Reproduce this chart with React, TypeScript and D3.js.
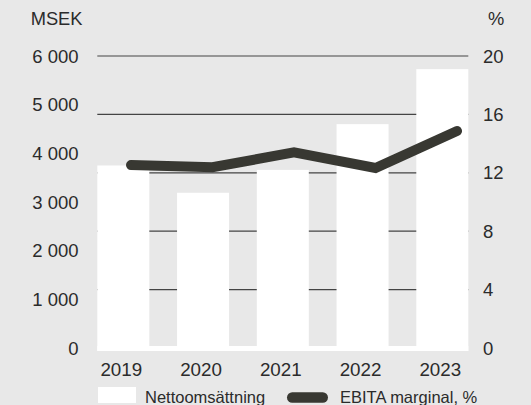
import React from "react";
import * as d3 from "d3";

// Data
const years = ["2019", "2020", "2021", "2022", "2023"];
const netSales = [3750, 3190, 3660, 4600, 5730]; // MSEK
const ebitaMargin = [12.53, 12.38, 13.4, 12.33, 14.86]; // %
const leftTicks = [0, 1000, 2000, 3000, 4000, 5000, 6000];
const rightTicks = [0, 4, 8, 12, 16, 20];

const W = 531;
const H = 405;
const BG = "#e8e8e8";
const TEXT = "#2b2b2b";
const LINE = "#383832";
const FONT = "'Liberation Sans', Arial, sans-serif";

const fmt = (v: number) => d3.format(",")(v).replace(/,/g, " ");

export default function App() {
  const yLeft = d3.scaleLinear().domain([0, 6000]).range([348, 56]);
  const yRight = d3.scaleLinear().domain([0, 20]).range([348, 56]);

  const x = d3
    .scaleBand<string>()
    .domain(years)
    .range([97.3, 468.3])
    .paddingInner(0.348)
    .paddingOuter(0);

  // the line points sit slightly right of the bar centres
  const xLine = d3.scalePoint<string>().domain(years).range([131, 457]);

  const line = d3
    .line<number>()
    .x((_, i) => xLine(years[i]) as number)
    .y((d) => yRight(d));

  const plotLeft = x.range()[0];
  const plotRight = x.range()[1];

  return (
    <svg
      width={W}
      height={H}
      style={{ position: "absolute", left: 0, top: 0, display: "block" }}
      fontFamily={FONT}
    >
      <rect width={W} height={H} fill={BG} />

      {/* gridlines follow the right axis, behind the bars */}
      {rightTicks
        .filter((t) => t > 0)
        .map((t) => (
          <line
            key={t}
            x1={plotLeft}
            x2={plotRight}
            y1={yRight(t)}
            y2={yRight(t)}
            stroke="#444"
            strokeWidth={1.2}
          />
        ))}

      {/* bars */}
      {years.map((yr, i) => (
        <rect
          key={yr}
          x={x(yr)}
          y={yLeft(netSales[i])}
          width={x.bandwidth()}
          height={yLeft(0) + 3 - yLeft(netSales[i])}
          fill="#ffffff"
        />
      ))}
      {/* white baseline strip */}
      <rect
        x={plotLeft}
        y={yLeft(0) - 2}
        width={plotRight - plotLeft}
        height={5}
        fill="#ffffff"
      />

      {/* EBITA line */}
      <path
        d={line(ebitaMargin) || ""}
        fill="none"
        stroke={LINE}
        strokeWidth={10}
        strokeLinecap="round"
        strokeLinejoin="miter"
      />

      {/* left axis */}
      <text x={30.7} y={18.5} fontSize={18.3} fill={TEXT} dominantBaseline="central">
        MSEK
      </text>
      {leftTicks.map((t) => (
        <text
          key={t}
          x={78.5}
          y={yLeft(t)}
          fontSize={18.5}
          fill={TEXT}
          textAnchor="end"
          dominantBaseline="central"
        >
          {fmt(t)}
        </text>
      ))}

      {/* right axis */}
      <text x={488} y={18.5} fontSize={18.3} fill={TEXT} dominantBaseline="central">
        %
      </text>
      {rightTicks.map((t) => (
        <text
          key={t}
          x={483}
          y={yRight(t)}
          fontSize={18.5}
          fill={TEXT}
          dominantBaseline="central"
        >
          {t}
        </text>
      ))}

      {/* x axis labels */}
      {years.map((yr) => (
        <text
          key={yr}
          x={(x(yr) as number) + x.bandwidth() / 2 - 2}
          y={369}
          fontSize={18.8}
          fill={TEXT}
          textAnchor="middle"
          dominantBaseline="central"
        >
          {yr}
        </text>
      ))}

      {/* legend */}
      <rect x={98} y={387} width={38} height={16} fill="#ffffff" />
      <text x={145} y={396.5} fontSize={16.5} fill={TEXT} dominantBaseline="central">
        Nettoomsättning
      </text>
      <rect x={287} y={392.3} width={41} height={10.5} rx={5.25} fill={LINE} />
      <text x={340} y={396.5} fontSize={16.5} fill={TEXT} dominantBaseline="central">
        EBITA marginal, %
      </text>
    </svg>
  );
}
